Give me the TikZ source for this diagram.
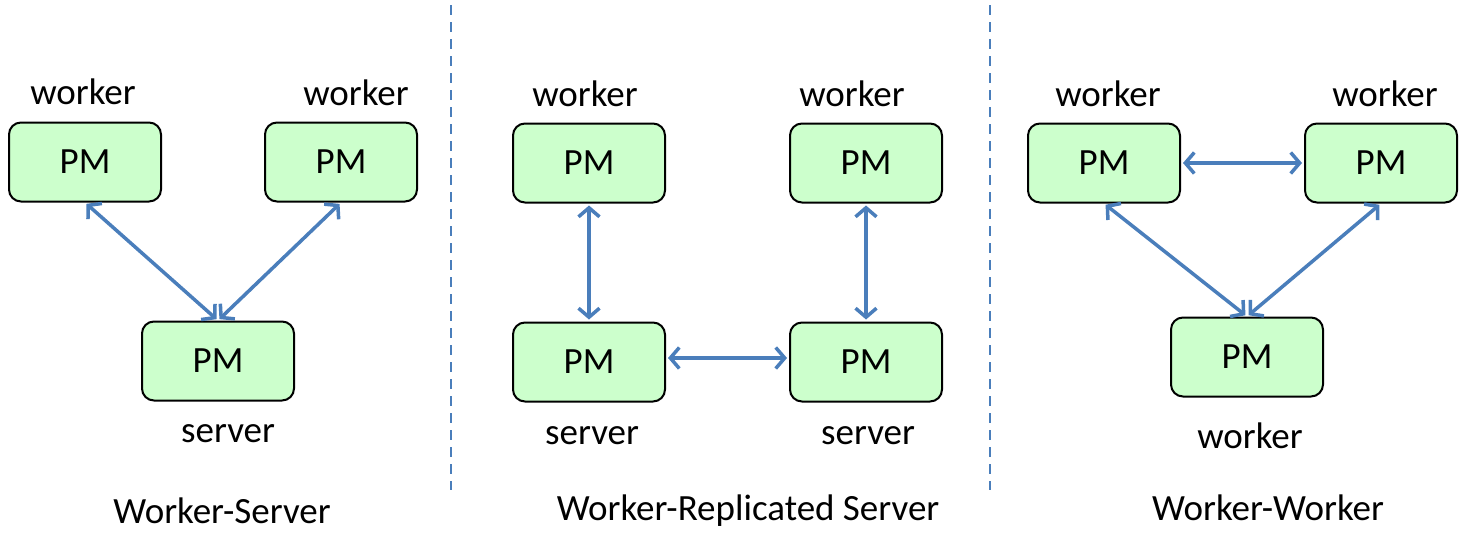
\documentclass[tikz,border=0pt]{standalone}
\usepackage{fontspec}
\setmainfont{Carlito}
\usetikzlibrary{arrows.meta}
\definecolor{pmfill}{RGB}{204,255,204}
\definecolor{arrowblue}{RGB}{74,126,187}
\tikzset{
  pm/.style={draw=black, line width=2pt, fill=pmfill, rounded corners=12pt,
    minimum width=152pt, minimum height=79pt, inner sep=0pt,
    font=\fontsize{37}{44}\selectfont},
  lbl/.style={inner sep=0pt, font=\fontsize{37}{44}\selectfont},
  link/.style={arrowblue, line width=3.5pt,
    {Straight Barb[length=9pt,width=21pt]}-{Straight Barb[length=9pt,width=21pt]},
    shorten <=2pt, shorten >=2pt},
  divider/.style={arrowblue, line width=2pt, dash pattern=on 10pt off 7pt}
}
\begin{document}
\begin{tikzpicture}[x=1pt,y=-1pt]
\useasboundingbox (0,0) rectangle (1479,555);
% dividers
\coordinate (d1a) at (451,5); \coordinate (d1b) at (451,490);
\coordinate (d2a) at (990,5); \coordinate (d2b) at (990,490);
\draw[divider] (d1a) -- (d1b);
\draw[divider] (d2a) -- (d2b);
% panel 1
\node[pm] (A) at (85,162) {PM};
\node[pm] (B) at (341,162) {PM};
\node[pm] (C) at (218,361) {PM};
\node[lbl] (la) at (83,92) {worker};
\node[lbl] (lb) at (356,93) {worker};
\node[lbl] (lc) at (228,434) {server};
\node[lbl] (t1) at (222,511) {Worker-Server};
\draw[link] (A.south) -- (C.north);
\draw[link] (B.south) -- (C.north);
% panel 2
\node[pm] (D) at (589,163) {PM};
\node[pm] (E) at (866,163) {PM};
\node[pm] (F) at (589,362) {PM};
\node[pm] (G) at (866,362) {PM};
\node[lbl] (ld) at (585,94) {worker};
\node[lbl] (le) at (852,94) {worker};
\node[lbl] (lf) at (592,436) {server};
\node[lbl] (lg) at (868,436) {server};
\node[lbl] (t2) at (748,511) {Worker-Replicated Server};
\draw[link] (D.south) -- (F.north);
\draw[link] (E.south) -- (G.north);
\draw[link] ([yshift=4pt]F.east) -- ([yshift=4pt]G.west);
% panel 3
\node[pm] (H) at (1104,163) {PM};
\node[pm] (I) at (1381,163) {PM};
\node[pm] (J) at (1247,357) {PM};
\node[lbl] (lh) at (1108,94) {worker};
\node[lbl] (li) at (1385,94) {worker};
\node[lbl] (lj) at (1250,436) {worker};
\node[lbl] (t3) at (1268,508) {Worker-Worker};
\draw[link] (H.east) -- (I.west);
\draw[link] (H.south) -- (J.north);
\draw[link] (I.south) -- (J.north);
\end{tikzpicture}
\end{document}
